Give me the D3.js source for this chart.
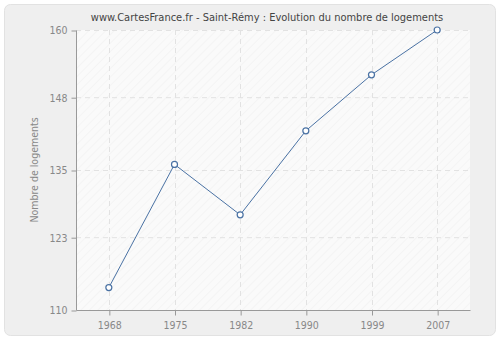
<!DOCTYPE html>
<html>
<head>
<meta charset="utf-8">
<script src="https://cdn.jsdelivr.net/npm/d3@7"></script>
<style>
  body { margin: 0; background: #fff; }
  text { font-family: "DejaVu Sans Condensed", "DejaVu Sans", sans-serif; }
</style>
</head>
<body>
<svg></svg>
<script>
let years = ['1968', '1975', '1982', '1990', '1999', '2007']
let logements = [114, 136, 127, 142, 152, 160]
let yTicks = [110, 123, 135, 148, 160]

let width = 500
let height = 340
let plotLeft = 76, plotRight = 470, plotTop = 30, plotBottom = 310

let svg = d3.select('svg').attr('width', width).attr('height', height)

// card background
svg.append('rect')
    .attr('x', 4.5).attr('y', 4.5)
    .attr('width', 491).attr('height', 331)
    .attr('rx', 6)
    .attr('fill', '#efefef')
    .attr('stroke', '#e2e2e2')

// hatch pattern
let defs = svg.append('defs')
let pat = defs.append('pattern')
    .attr('id', 'hatch')
    .attr('width', 6).attr('height', 6)
    .attr('patternUnits', 'userSpaceOnUse')
    .attr('patternTransform', 'rotate(45)')
pat.append('rect').attr('width', 6).attr('height', 6).attr('fill', '#fafafa')
pat.append('line')
    .attr('x1', 0).attr('y1', 0).attr('x2', 0).attr('y2', 6)
    .attr('stroke', '#eeeeee').attr('stroke-width', 1)

svg.append('rect')
    .attr('x', plotLeft).attr('y', plotTop)
    .attr('width', plotRight - plotLeft).attr('height', plotBottom - plotTop)
    .attr('fill', 'url(#hatch)')

let x = d3.scalePoint().domain(years).range([plotLeft, plotRight]).padding(0.5)
let y = d3.scaleLinear().domain([110, 160]).range([plotBottom, plotTop])

// grid
svg.append('g').selectAll('line')
    .data(yTicks.slice(1))
    .enter().append('line')
    .attr('x1', plotLeft).attr('x2', plotRight)
    .attr('y1', d => y(d) + 0.5).attr('y2', d => y(d) + 0.5)
    .attr('stroke', '#e2e2e2').attr('stroke-dasharray', '5,4')
svg.append('g').selectAll('line')
    .data(years)
    .enter().append('line')
    .attr('x1', d => Math.round(x(d)) + 0.5).attr('x2', d => Math.round(x(d)) + 0.5)
    .attr('y1', plotTop).attr('y2', plotBottom)
    .attr('stroke', '#e2e2e2').attr('stroke-dasharray', '5,4')

// axes
let yAxis = d3.axisLeft(y).tickValues(yTicks).tickSize(5).tickPadding(4)
let gy = svg.append('g')
    .attr('transform', 'translate(' + (plotLeft + 0.5) + ',0.5)')
    .call(yAxis)
let xAxis = d3.axisBottom(x).tickSize(5).tickPadding(6)
let gx = svg.append('g')
    .attr('transform', 'translate(0.5,' + (plotBottom + 0.5) + ')')
    .call(xAxis)
;[gx, gy].forEach(g => {
    g.select('.domain').attr('stroke', '#999')
    g.selectAll('.tick line').attr('stroke', '#999')
    g.selectAll('.tick text')
        .attr('fill', '#888')
        .style('font-family', '"DejaVu Sans Condensed", "DejaVu Sans", sans-serif')
        .style('font-size', '10.5px')
})
gx.select('.domain').attr('d', 'M' + plotLeft + ',0H' + plotRight)
gy.select('.domain').attr('d', 'M0,' + plotBottom + 'V' + plotTop)

// y label
svg.append('text')
    .attr('transform', 'translate(38,' + ((plotTop + plotBottom) / 2) + ') rotate(-90)')
    .attr('text-anchor', 'middle')
    .attr('fill', '#888')
    .style('font-size', '10.5px')
    .text('Nombre de logements')

// title
svg.append('text')
    .attr('x', 267).attr('y', 21)
    .attr('text-anchor', 'middle')
    .attr('fill', '#444')
    .style('font-size', '11px')
    .text('www.CartesFrance.fr - Saint-Rémy : Evolution du nombre de logements')

// line
let line = d3.line()
    .x((d, i) => x(years[i]))
    .y(d => y(d))
svg.append('path')
    .datum(logements)
    .attr('d', line)
    .attr('fill', 'none')
    .attr('stroke', '#4a72a4')
    .attr('stroke-width', 1)

svg.selectAll('circle')
    .data(logements)
    .enter()
    .append('circle')
    .attr('cx', (d, i) => x(years[i]))
    .attr('cy', d => y(d))
    .attr('r', 3)
    .attr('fill', '#fff')
    .attr('stroke', '#4a72a4')
    .attr('stroke-width', 1.2)
</script>
</body>
</html>
